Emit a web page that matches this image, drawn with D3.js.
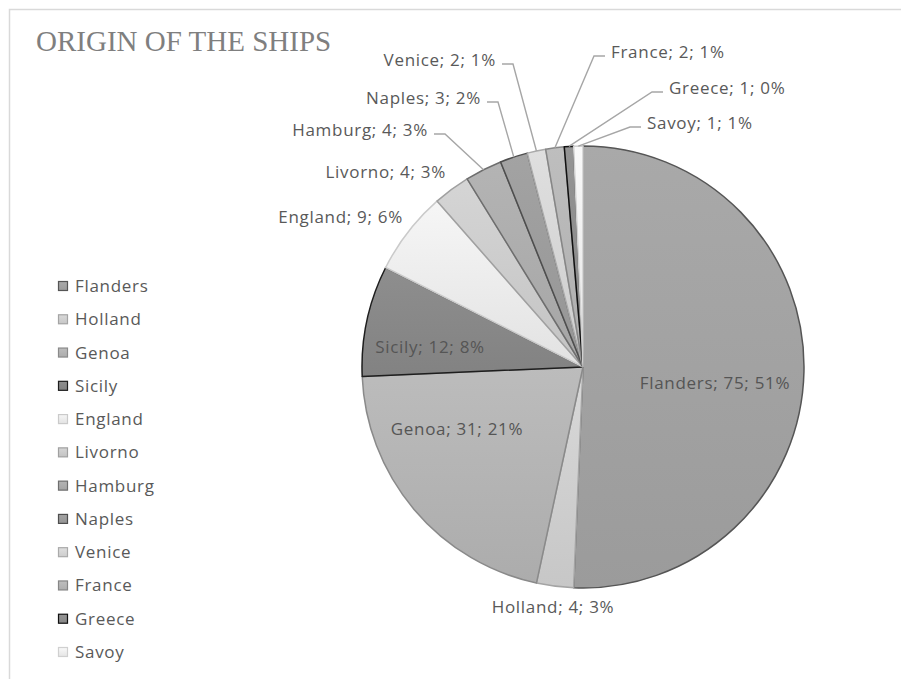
<!DOCTYPE html>
<html>
<head>
<meta charset="utf-8">
<script src="https://cdn.jsdelivr.net/npm/d3@7"></script>
<style>
  body { margin: 0; background: #fff; }
  text { font-family: "Open Sans", sans-serif; }
</style>
</head>
<body>
<script>
// data
const origins = ['Flanders', 'Holland', 'Genoa', 'Sicily', 'England', 'Livorno',
    'Hamburg', 'Naples', 'Venice', 'France', 'Greece', 'Savoy'];
const ships = [75, 4, 31, 12, 9, 4, 4, 3, 2, 2, 1, 1];
const pctLabels = ['51%', '3%', '21%', '8%', '6%', '3%', '3%', '2%', '1%', '1%', '0%', '1%'];

// grey palette (fill, stroke) per slice
const fills = ['#a2a2a2', '#d0d0d0', '#b4b4b4', '#888888', '#ececec', '#cccccc',
    '#acacac', '#9c9c9c', '#d6d6d6', '#b6b6b6', '#8e8e8e', '#efefef'];
const strokes = ['#555555', '#a4a4a4', '#8a8a8a', '#1e1e1e', '#cacaca', '#a0a0a0',
    '#6e6e6e', '#4e4e4e', '#aaaaaa', '#868686', '#111111', '#d0d0d0'];

// where Excel put each data label (x, baseline, anchor, leader line?)
const labelLayout = {
    Flanders: { x: 715, y: 389, anchor: 'middle', inside: true },
    Holland: { x: 553, y: 613, anchor: 'middle' },
    Genoa: { x: 457, y: 435, anchor: 'middle', inside: true },
    Sicily: { x: 430, y: 353, anchor: 'middle', inside: true },
    England: { x: 403, y: 223, anchor: 'end' },
    Livorno: { x: 446, y: 178, anchor: 'end' },
    Hamburg: { x: 428, y: 136, anchor: 'end', leader: true },
    Naples: { x: 481, y: 104, anchor: 'end', leader: true },
    Venice: { x: 496, y: 66, anchor: 'end', leader: true },
    France: { x: 611, y: 58, anchor: 'start', leader: true },
    Greece: { x: 669, y: 94, anchor: 'start', leader: true },
    Savoy: { x: 647, y: 129, anchor: 'start', leader: true },
};

const W = 901, H = 679;
const cx = 583, cy = 367, radius = 221;
const labelFont = 'font-size:17px;letter-spacing:0.7px;';

const svg = d3.select('body').append('svg')
    .attr('width', W)
    .attr('height', H);

// chart frame (runs past the right / bottom of the crop)
svg.append('rect')
    .attr('x', 9.5).attr('y', 9.5)
    .attr('width', W + 20).attr('height', H + 20)
    .attr('fill', '#fff')
    .attr('stroke', '#d9d9d9')
    .attr('stroke-width', 1.5);

svg.append('text')
    .attr('x', 36).attr('y', 51)
    .attr('fill', '#7f7f7f')
    .attr('style', 'font-family:"Liberation Serif", serif;font-size:29px;')
    .text('ORIGIN OF THE SHIPS');

const defs = svg.append('defs');
fills.forEach((c, i) => {
    const g = defs.append('linearGradient')
        .attr('id', `grad${i}`)
        .attr('x1', 0).attr('y1', 0).attr('x2', 0).attr('y2', 1);
    g.append('stop').attr('offset', '0%').attr('stop-color', d3.color(c).brighter(0.12));
    g.append('stop').attr('offset', '100%').attr('stop-color', d3.color(c).darker(0.12));
});

const rows = origins.map((name, i) => ({ name, value: ships[i], pct: pctLabels[i], idx: i }));

const pie = d3.pie().sort(null).value((d) => d.value);
const arc = d3.arc().innerRadius(0).outerRadius(radius);
const arcs = pie(rows);

const g = svg.append('g').attr('transform', `translate(${cx},${cy})`);

g.selectAll('path.slice')
    .data(arcs)
    .join('path')
    .attr('class', 'slice')
    .attr('d', arc)
    .attr('fill', (d) => `url(#grad${d.data.idx})`)
    .attr('stroke', (d) => strokes[d.data.idx])
    .attr('stroke-width', 1.5)
    .attr('stroke-linejoin', 'round');

// leader lines
arcs.forEach((d) => {
    const lay = labelLayout[d.data.name];
    if (!lay.leader) return;
    const mid = (d.startAngle + d.endAngle) / 2;
    const px = cx + radius * Math.sin(mid);
    const py = cy - radius * Math.cos(mid);
    const ly = lay.y - 2;
    const dir = lay.anchor === 'end' ? 1 : -1;
    const x0 = lay.x + dir * 6;
    const x1 = x0 + dir * 11;
    svg.append('path')
        .attr('fill', 'none')
        .attr('stroke', '#a6a6a6')
        .attr('stroke-width', 1.4)
        .attr('d', `M ${x0} ${ly} L ${x1} ${ly} L ${px} ${py}`);
});

svg.selectAll('text.lbl')
    .data(arcs)
    .join('text')
    .attr('class', 'lbl')
    .attr('x', (d) => labelLayout[d.data.name].x)
    .attr('y', (d) => labelLayout[d.data.name].y)
    .attr('text-anchor', (d) => labelLayout[d.data.name].anchor)
    .attr('fill', (d) => (labelLayout[d.data.name].inside ? '#555555' : '#595959'))
    .attr('style', labelFont)
    .text((d) => `${d.data.name}; ${d.data.value}; ${d.data.pct}`);

// legend
const legend = svg.append('g');
const rowY = d3.scaleLinear().domain([0, origins.length - 1]).range([286, 652]);
origins.forEach((name, i) => {
    legend.append('rect')
        .attr('x', 58.5).attr('y', rowY(i) - 4.5)
        .attr('width', 9).attr('height', 9)
        .attr('fill', `url(#grad${i})`)
        .attr('stroke', strokes[i])
        .attr('stroke-width', 1.2);
    legend.append('text')
        .attr('x', 75).attr('y', rowY(i) + 6)
        .attr('fill', '#595959')
        .attr('style', labelFont)
        .text(name);
});
</script>
</body>
</html>
